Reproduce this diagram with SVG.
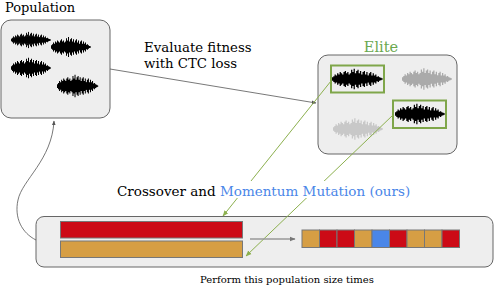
<svg xmlns="http://www.w3.org/2000/svg" xmlns:xlink="http://www.w3.org/1999/xlink" width="496" height="288" viewBox="0 0 496 288">
<style>
text{font-family:"DejaVu Serif","Liberation Serif",serif;fill:#000}
.box{fill:#eeeeee;stroke:#666;stroke-width:1}
.green{fill:none;stroke:#7fa64a;stroke-width:2}
.gl{fill:none;stroke:#8cb04e;stroke-width:1}
.dl{fill:none;stroke:#555;stroke-width:0.8}
.bar{stroke:#777;stroke-width:1}
.red{fill:#cc0a16}
.ora{fill:#d69e44}
.blu{fill:#4a86e8}
</style>
<defs>
<g id="wave">
<path stroke-width="1" fill="none" stroke="currentColor" d="M0.5,-1.5V1.5M1.5,-2.5V2.5M2.5,-4V4M3.5,-3V3M4.5,-5V5M5.5,-4V4M6.5,-6V6M7.5,-5V5M8.5,-4V4M9.5,-6V6M10.5,-7V7M11.5,-5V5M12.5,-6V6M13.5,-4V4M14.5,-5V5M15.5,-8V8M16.5,-6V6M17.5,-9V9M18.5,-5V5M19.5,-7V7M20.5,-8V8M21.5,-5V5M22.5,-7V7M23.5,-4V4M24.5,-6V6M25.5,-7V7M26.5,-4V4M27.5,-6V6M28.5,-3V3M29.5,-5V5M30.5,-6V6M31.5,-3V3M32.5,-5V5M33.5,-3V3M34.5,-4V4M35.5,-2V2M36.5,-2.5V2.5M37.5,-1.5V1.5M38.5,-1V1M39.5,-0.5V0.5"/>
<path fill="currentColor" d="M0,0C4,-2.5 10,-3 20,-3.5C30,-3 36,-2 40,0C36,2 30,3 20,3.5C10,3 4,2.5 0,0Z"/>
</g>
<marker id="ah" viewBox="0 0 10 10" refX="9" refY="5" markerWidth="6" markerHeight="6" orient="auto"><path d="M0,1L10,5L0,9Z" fill="#555"/></marker>
<marker id="ahg" viewBox="0 0 10 10" refX="9" refY="5" markerWidth="6" markerHeight="6" orient="auto"><path d="M0,1L10,5L0,9Z" fill="#8cb04e"/></marker>
<marker id="ahl" viewBox="0 0 10 10" refX="9" refY="5" markerWidth="4" markerHeight="4" orient="auto"><path d="M0,1L10,5L0,9Z" fill="#777"/></marker>
</defs>

<g id="population">
<text x="5" y="12" font-size="13">Population</text>
<rect class="box" x="1" y="20" width="109" height="98" rx="10"/>
<use xlink:href="#wave" href="#wave" color="#000" transform="translate(11,40) scale(1,0.9)"/>
<use xlink:href="#wave" href="#wave" color="#000" transform="translate(51,47) scale(1,1.1)"/>
<use xlink:href="#wave" href="#wave" color="#000" transform="translate(11,68) scale(1,1.15)"/>
<use xlink:href="#wave" href="#wave" color="#000" transform="translate(57,86) scale(1.03,1.25)"/>
</g>

<g id="elite">
<text x="381" y="52" font-size="14.5" text-anchor="middle" style="fill:#6aa84f">Elite</text>
<rect class="box" x="318" y="55" width="139" height="99" rx="10"/>
<use xlink:href="#wave" href="#wave" color="#000" transform="translate(332,79) scale(1.27,1.15)"/>
<use xlink:href="#wave" href="#wave" color="#aaaaaa" transform="translate(402,79) scale(1.25,1.2)"/>
<use xlink:href="#wave" href="#wave" color="#000" transform="translate(395,114) scale(1.25,1.15)"/>
<use xlink:href="#wave" href="#wave" color="#c8c8c8" transform="translate(333,129) scale(1.25,1.2)"/>
<rect class="green" x="331" y="65.5" width="53" height="27"/>
<rect class="green" x="393" y="100.5" width="53" height="27.5"/>
</g>

<g id="crossover">
<rect class="box" x="36" y="216.5" width="457" height="50.5" rx="8"/>
<rect class="bar red" x="60.5" y="221.5" width="182" height="16.5"/>
<rect class="bar ora" x="60.5" y="241" width="182" height="16.5"/>
<g class="bar">
<rect class="ora" x="302" y="230" width="17.5" height="17.5"/>
<rect class="red" x="319.5" y="230" width="17.5" height="17.5"/>
<rect class="red" x="337" y="230" width="17.5" height="17.5"/>
<rect class="ora" x="354.5" y="230" width="17.5" height="17.5"/>
<rect class="blu" x="372" y="230" width="17.5" height="17.5"/>
<rect class="red" x="389.5" y="230" width="17.5" height="17.5"/>
<rect class="ora" x="407" y="230" width="17.5" height="17.5"/>
<rect class="ora" x="424.5" y="230" width="17.5" height="17.5"/>
<rect class="red" x="442" y="230" width="17.5" height="17.5"/>
</g>
</g>

<g id="connectors">
<path class="dl" d="M110,69L316,103" marker-end="url(#ah)"/>
<path class="dl" d="M36,240C22,233 14,218 18,200C22,180 52,160 54,121" marker-end="url(#ah)"/>
<path class="gl" d="M331,81L223,216" marker-end="url(#ahg)"/>
<path class="gl" d="M393,115L246,256" marker-end="url(#ahg)"/>
<path d="M250,239H295" fill="none" stroke="#999" stroke-width="1.5" marker-end="url(#ahl)"/>
</g>

<g id="labels">
<text x="144" y="52" font-size="13.3">Evaluate fitness</text>
<text x="144" y="68" font-size="13.3">with CTC loss</text>
<rect x="114" y="181" width="298" height="17" fill="#fff"/>
<text x="117" y="196" font-size="13.5">Crossover and <tspan style="fill:#4a86e8">Momentum Mutation (ours)</tspan></text>
<text x="200" y="283" font-size="10">Perform this population size times</text>
</g>
</svg>
